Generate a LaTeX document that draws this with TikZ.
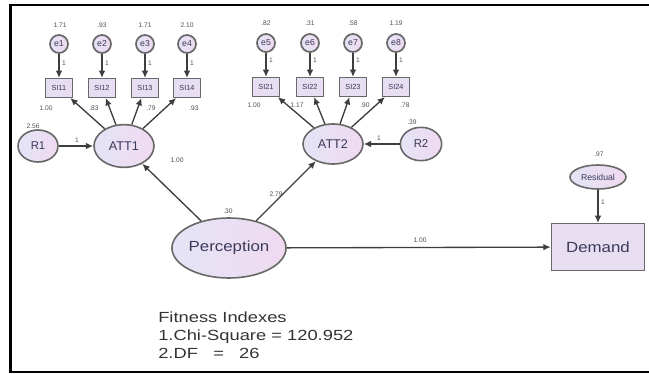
\documentclass[tikz,border=0pt]{standalone}
\usepackage{fontspec}
\setmainfont{Liberation Sans}
\newfontfamily\widefont[FakeStretch=1.25]{Liberation Sans}
\newfontfamily\medfont[FakeStretch=1.15]{Liberation Sans}
\usetikzlibrary{shapes.geometric,arrows.meta}
\definecolor{lavl}{HTML}{E4E4F6}
\definecolor{lavr}{HTML}{F0DAF0}
\definecolor{lav}{HTML}{E8DEF2}
\definecolor{edgec}{HTML}{686868}
\definecolor{ink}{HTML}{3A3A5A}
\definecolor{lbl}{HTML}{505050}
\definecolor{linec}{HTML}{3E3E3E}
\begin{document}
\begin{tikzpicture}[x=0.75pt,y=-0.75pt,
  lat/.style={ellipse,draw=edgec,line width=1.2pt,left color=lavl,right color=lavr,inner sep=0pt,text=ink},
  err/.style={circle,draw=edgec,line width=1.3pt,left color=lavl,right color=lavr,inner sep=0pt,minimum size=13.5pt,font=\fontsize{6.5}{7}\selectfont,text=ink},
  obs/.style={rectangle,draw=edgec,line width=1.1pt,fill=lav,inner sep=0pt,minimum width=20pt,minimum height=14pt,font=\fontsize{5.5}{6}\selectfont,text=ink},
  num/.style={font=\fontsize{5}{5}\selectfont,text=lbl,inner sep=0pt},
  arr/.style={draw=linec,line width=1pt,-{Latex[length=5.5pt,width=5pt]}},
]
\useasboundingbox (0,0) rectangle (649,374);
\draw[line width=1.6pt] (649,5) -- (10.5,5) -- (10.5,372) -- (649,372);

% ATT1 group
\foreach \i/\x in {1/59,2/102,3/145,4/187}{
  \node[err] (e\i) at (\x,44) {e\i};
}
\node[obs] (si11) at (59,88) {SI11};
\node[obs] (si12) at (102,88) {SI12};
\node[obs] (si13) at (145,88) {SI13};
\node[obs] (si14) at (187,88) {SI14};
\node[lat,minimum width=45pt,minimum height=32pt,font=\fontsize{9.5}{10}\selectfont] (att1) at (124,146) {ATT1};
\node[lat,minimum width=30pt,minimum height=24pt,font=\fontsize{8.5}{9}\selectfont] (r1) at (38,146) {R1};

% ATT2 group
\foreach \i/\x in {5/266,6/310,7/353,8/396}{
  \node[err] (e\i) at (\x,43) {e\i};
}
\node[obs] (si21) at (266,87) {SI21};
\node[obs] (si22) at (310,87) {SI22};
\node[obs] (si23) at (353,87) {SI23};
\node[obs] (si24) at (396,87) {SI24};
\node[lat,minimum width=45pt,minimum height=30pt,font=\fontsize{9.5}{10}\selectfont] (att2) at (333,144) {ATT2};
\node[lat,minimum width=31pt,minimum height=25pt,font=\fontsize{8.5}{9}\selectfont] (r2) at (421,144) {R2};

\node[lat,minimum width=84pt,minimum height=45pt,font=\fontsize{11}{12}\selectfont\medfont] (perc) at (229,248) {Perception};
\node[rectangle,draw=edgec,line width=1.1pt,fill=lav,minimum width=70pt,minimum height=35pt,font=\fontsize{11}{12}\selectfont\medfont,text=ink] (dem) at (598,247) {Demand};
\node[lat,minimum width=42pt,minimum height=18pt,font=\fontsize{6.5}{7}\selectfont] (res) at (598,177) {Residual};

% arrows
\foreach \a/\b in {e1/si11,e2/si12,e3/si13,e4/si14,e5/si21,e6/si22,e7/si23,e8/si24,
  att1/si11,att1/si12,att1/si13,att1/si14,att2/si21,att2/si22,att2/si23,att2/si24,
  r1/att1,r2/att2,perc/att1,perc/att2,perc/dem,res/dem}{
  \draw[arr] (\a) -- (\b);
}

% labels
\node[num] (n1) at (60,25) {1.71};
\node[num] (n2) at (102,25) {.93};
\node[num] (n3) at (145,25) {1.71};
\node[num] (n4) at (187,25) {2.10};
\foreach \i/\x in {1/59,2/102,3/145,4/187}{
  \node[num] (w\i) at (\x+5,63) {1};
}
\node[num] (l1) at (46,108) {1.00};
\node[num] (l2) at (94,108) {.83};
\node[num] (l3) at (151,108) {.79};
\node[num] (l4) at (194,108) {.93};
\node[num] (n5) at (266,23) {.82};
\node[num] (n6) at (310,23) {.31};
\node[num] (n7) at (353,23) {.58};
\node[num] (n8) at (396,23) {1.19};
\foreach \i/\x in {5/266,6/310,7/353,8/396}{
  \node[num] (w\i) at (\x+5,60) {1};
}
\node[num] (l5) at (254,105) {1.00};
\node[num] (l6) at (297,105) {1.17};
\node[num] (l7) at (365,105) {.90};
\node[num] (l8) at (405,105) {.78};
\node[num] (vr1) at (33,126) {2.56};
\node[num] (wr1) at (77,140) {1};
\node[num] (vr2) at (412,122) {.39};
\node[num] (wr2) at (379,138) {1};
\node[num] (vp) at (228,211) {.30};
\node[num] (p1) at (177,160) {1.00};
\node[num] (p2) at (276,194) {2.79};
\node[num] (p3) at (420,240) {1.00};
\node[num] (vres) at (599,154) {.97};
\node[num] (wres) at (603,202) {1};

\node[anchor=west,inner sep=0pt,text=black!80,font=\fontsize{11}{13.5}\selectfont\widefont,align=left] (fit) at (158,335) {Fitness Indexes\\1.Chi-Square = 120.952\\2.DF\ \ \ =\ \ \ 26};
\end{tikzpicture}
\end{document}
